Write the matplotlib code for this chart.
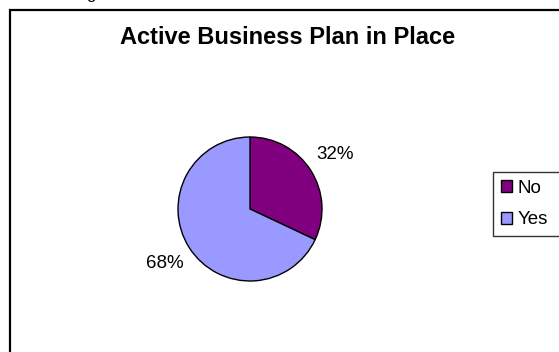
import matplotlib
matplotlib.use('Agg')
import matplotlib.pyplot as plt
from matplotlib.patches import Patch, Rectangle

plt.rcParams['font.family'] = ['Liberation Sans', 'DejaVu Sans']

# pie data
categories = ['No', 'Yes']
shares = [32, 68]
colors = ['#800080', '#9999FF']
title = 'Active Business Plan in Place'

W, H = 559, 352
fig = plt.figure(figsize=(W / 100, H / 100), dpi=100)

# outer chart border (runs off the right and bottom edges)
fig.add_artist(Rectangle((10 / W, -0.1), 1.2, 1.1 - 10 / H, transform=fig.transFigure,
                         fill=False, edgecolor='black', linewidth=1.6))

# bit of text from the line above the chart
fig.text(86 / W, 1 + 1.5 / H, 'g', fontsize=12, va='baseline', ha='left')

fig.text(288 / W, 1 - 37 / H, title, fontsize=17, fontweight='bold', ha='center', va='center')

# pie axes: centre at (250, 209) px, radius 72 px
ax = fig.add_axes([(250 - 90) / W, (H - 209 - 90) / H, 180 / W, 180 / H])

wedges, texts, autotexts = ax.pie(
    shares, colors=colors, startangle=90, counterclock=False, radius=1,
    autopct=lambda p: f'{p:.0f}%', pctdistance=1.4,
    wedgeprops=dict(edgecolor='black', linewidth=1.0), frame=True)
for t in autotexts:
    t.set_fontsize(13.5)
ax.set_xlim(-1.25, 1.25)
ax.set_ylim(-1.25, 1.25)
ax.axis('off')

handles = [Patch(facecolor=c, edgecolor='black', linewidth=1.0) for c in colors]
leg = fig.legend(handles, categories, loc='upper left',
                 bbox_to_anchor=(493 / W, 1 - 176 / H, 90 / W, 0.01), mode='expand',
                 fontsize=13.5, handlelength=0.6, handleheight=0.6, handletextpad=0.3,
                 labelspacing=0.76, borderpad=0.4, borderaxespad=0, fancybox=False)
leg.get_frame().set_edgecolor('black')
leg.get_frame().set_linewidth(1.0)

fig.savefig('out.png', dpi=100)
